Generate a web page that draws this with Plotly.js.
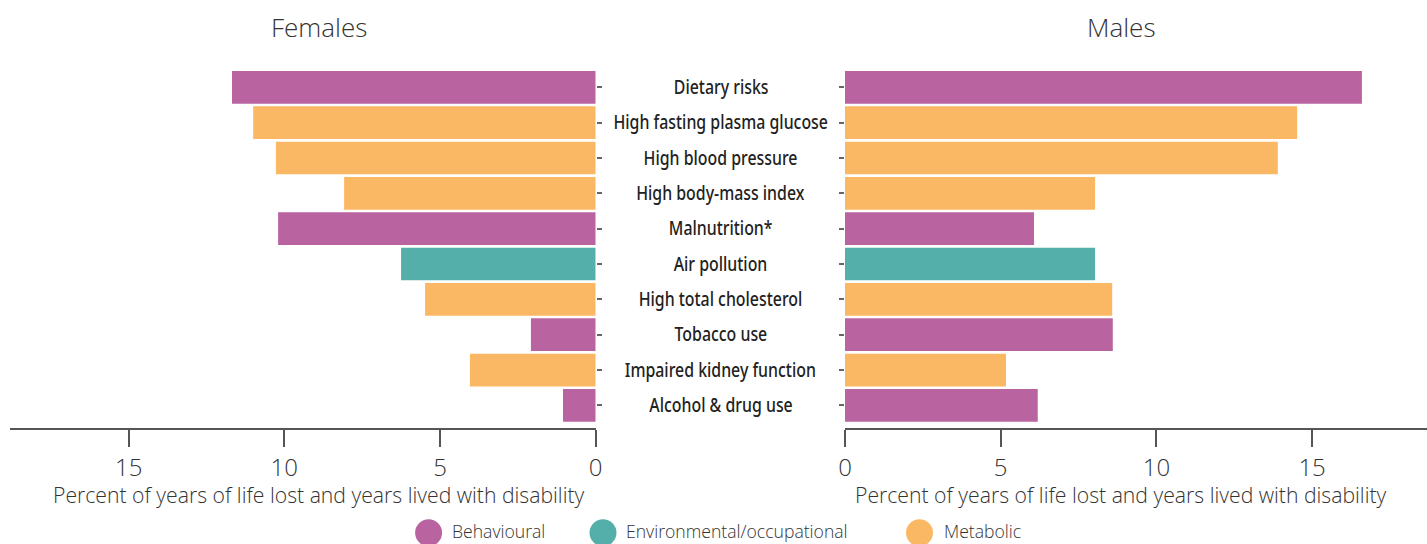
<!DOCTYPE html>
<html>
<head>
<meta charset="utf-8">
<script src="https://cdn.plot.ly/plotly-3.0.1.min.js"></script>
<style>html,body{margin:0;padding:0;background:#fff;}#chart{width:1427px;height:544px;}</style>
</head>
<body>
<div id="chart"></div>
<script>
// ---- Data ----
const categories = [
  "Dietary risks",
  "High fasting plasma glucose",
  "High blood pressure",
  "High body-mass index",
  "Malnutrition*",
  "Air pollution",
  "High total cholesterol",
  "Tobacco use",
  "Impaired kidney function",
  "Alcohol & drug use"
];
const riskGroup = [
  "Behavioural", "Metabolic", "Metabolic", "Metabolic", "Behavioural",
  "Environmental/occupational", "Metabolic", "Behavioural", "Metabolic", "Behavioural"
];
const females = [11.68, 11.0, 10.27, 8.08, 10.2, 6.25, 5.48, 2.08, 4.04, 1.05];
const males   = [16.6, 14.52, 13.9, 8.03, 6.07, 8.03, 8.58, 8.6, 5.17, 6.19];
const groups = ["Behavioural", "Environmental/occupational", "Metabolic"];
const groupColors = {"Behavioural": "#B964A0", "Environmental/occupational": "#54AFAB", "Metabolic": "#FBB864"};
const xTicks = [0, 5, 10, 15];
const panelTitles = ["Females", "Males"];
const axisTitle = "Percent of years of life lost and years lived with disability";

// ---- Chart ----
const barColors = riskGroup.map(g => groupColors[g]);
const tickFont = {family: "'Open Sans', 'Noto Sans', sans-serif", size: 24, color: "#333", weight: 300};
const catFont = {family: "'Noto Sans', sans-serif", size: 19.5, color: "#222", weight: 500};

const traces = [
  {type: "bar", orientation: "h", name: "Females", y: categories, x: females,
   xaxis: "x", yaxis: "y", marker: {color: barColors}, showlegend: false, hoverinfo: "x+y"},
  {type: "bar", orientation: "h", name: "Males", y: categories, x: males,
   xaxis: "x2", yaxis: "y2", marker: {color: barColors}, showlegend: false, hoverinfo: "x+y"}
];

const W = 1427, H = 544, mL = 10, mR = 0, mT = 70, mB = 116;
const plotW = W - mL - mR, plotH = H - mT - mB;
const px2x = p => (p - mL) / plotW;
const px2y = p => (H - mB - p) / plotH;

const xCommon = {
  tickvals: xTicks, ticks: "outside", ticklen: 17, tickwidth: 1.5, tickcolor: "#555",
  showline: true, linecolor: "#555", linewidth: 1.5, zeroline: false, showgrid: false,
  tickfont: tickFont, fixedrange: true
};
const yCommon = {
  type: "category", categoryorder: "array", categoryarray: categories,
  range: [9.64, -0.49], ticks: "outside", ticklen: 5, tickwidth: 1.5, tickcolor: "#666",
  showticklabels: false, showline: false, showgrid: false, zeroline: false, fixedrange: true
};

const annotations = [];
categories.forEach(c => annotations.push({
  xref: "paper", yref: "y", x: px2x(720.5), y: c, text: c, showarrow: false,
  xanchor: "center", yanchor: "middle", yshift: 1, font: catFont
}));
const titleX = [319, 1121];
panelTitles.forEach((t, i) => {
  annotations.push({xref: "paper", yref: "paper", x: px2x(titleX[i]), y: px2y(27), text: t,
    showarrow: false, xanchor: "center", yanchor: "middle",
    font: {family: "'Open Sans', 'Noto Sans', sans-serif", size: 26, color: "#333", weight: 300}});
  annotations.push({xref: "paper", yref: "paper", x: px2x(titleX[i]), y: px2y(495), text: axisTitle,
    showarrow: false, xanchor: "center", yanchor: "middle",
    font: {family: "'Open Sans', 'Noto Sans', sans-serif", size: 21.2, color: "#333", weight: 300}});
});

// legend (circles + labels)
const legendCx = [428.6, 603, 919.5];
const legendTx = [450.5, 625, 942.5];
const legendCy = 532.8, legendTy = 531, legendR = 13.5;
const shapes = [];
groups.forEach((g, i) => {
  shapes.push({type: "circle", xref: "paper", yref: "paper",
    xsizemode: "pixel", ysizemode: "pixel",
    xanchor: px2x(legendCx[i]), yanchor: px2y(legendCy),
    x0: -legendR, x1: legendR, y0: -legendR, y1: legendR,
    fillcolor: groupColors[g], line: {width: 0}});
  annotations.push({xref: "paper", yref: "paper", x: px2x(legendTx[i]), y: px2y(legendTy), text: g,
    showarrow: false, xanchor: "left", yanchor: "middle", borderpad: 0,
    font: {family: "'Open Sans', 'Noto Sans', sans-serif", size: 17.6, color: "#333", weight: 300}});
});

const layout = {
  width: W, height: H, margin: {l: mL, r: mR, t: mT, b: mB, pad: 0},
  paper_bgcolor: "#fff", plot_bgcolor: "#fff",
  bargap: 0.075, showlegend: false,
  xaxis: Object.assign({}, xCommon, {domain: [0, px2x(595.7)], range: [18.81, 0], anchor: "y"}),
  yaxis: Object.assign({}, yCommon, {anchor: "x", side: "right"}),
  xaxis2: Object.assign({}, xCommon, {domain: [px2x(845), 1], range: [0, 18.69], anchor: "y2"}),
  yaxis2: Object.assign({}, yCommon, {anchor: "x2", side: "left"}),
  annotations: annotations, shapes: shapes
};

// The reference uses a condensed face; emulate by narrowing the category labels' glyphs.
const refLabelWidth = 214.5;   // width of "High fasting plasma glucose" in the reference
function condenseLabels(gd) {
  const nodes = gd.querySelectorAll('.annotation');
  let ref = null;
  const items = [];
  nodes.forEach(n => {
    const t = n.querySelector('text.annotation-text');
    if (!t) return;
    const s = t.textContent;
    if (categories.indexOf(s) >= 0) {
      t.removeAttribute('textLength');
      const w = t.getComputedTextLength();
      items.push([t, w]);
      if (s === "High fasting plasma glucose") ref = w;
    }
  });
  if (!ref) return;
  const k = refLabelWidth / ref;
  items.forEach(([t, w]) => {
    t.setAttribute('text-anchor', 'middle');
    t.setAttribute('textLength', (w * k).toFixed(2));
    t.setAttribute('lengthAdjust', 'spacingAndGlyphs');
  });
}

Plotly.newPlot("chart", traces, layout, {displayModeBar: false}).then(gd => {
  condenseLabels(gd);
  gd.on('plotly_afterplot', () => condenseLabels(gd));
});
</script>
</body>
</html>
